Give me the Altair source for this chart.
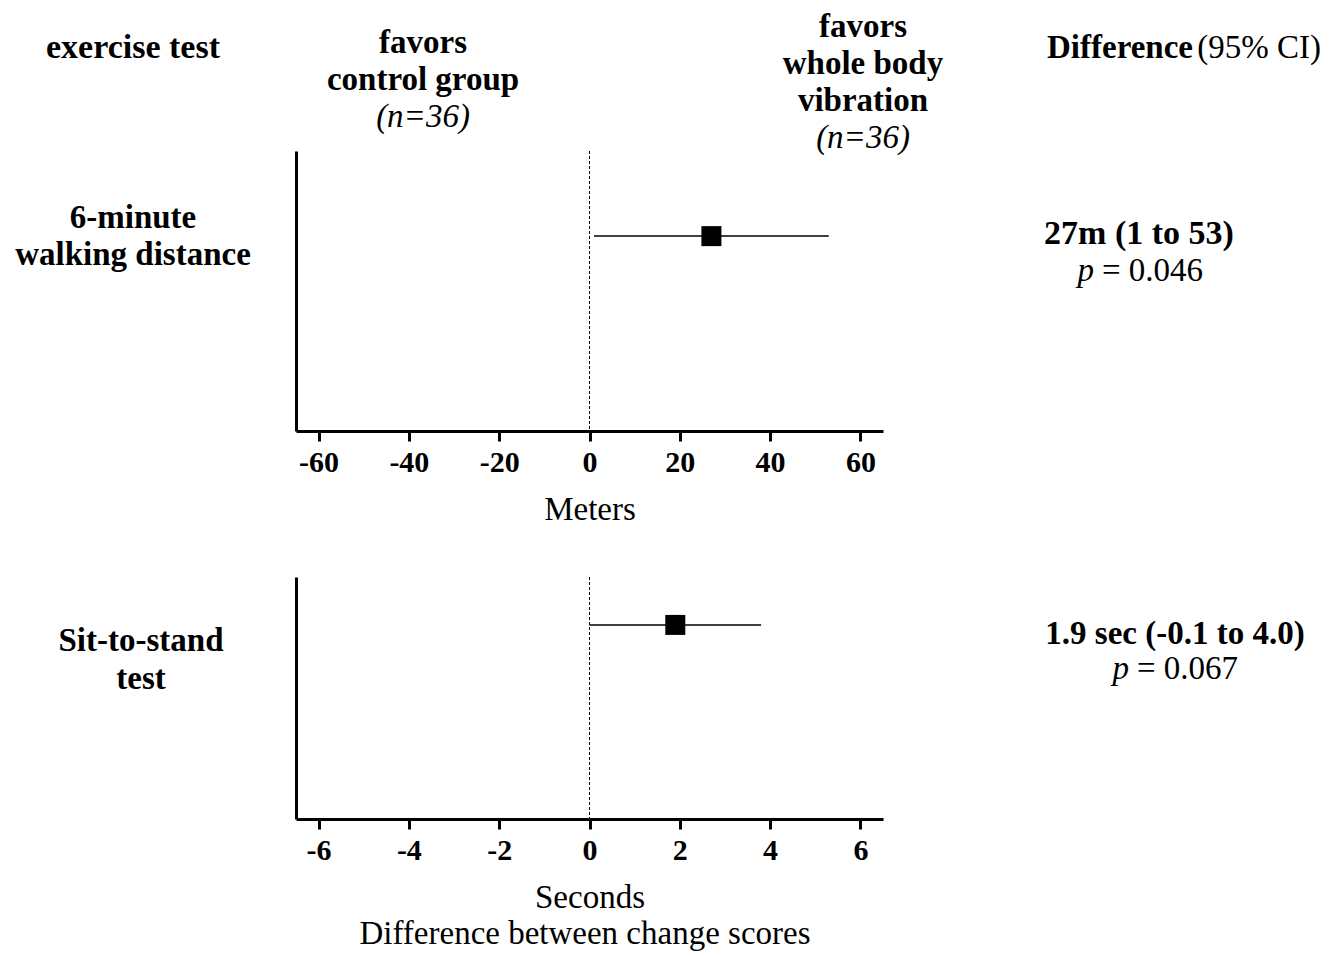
import altair as alt
import pandas as pd

FONT = "Liberation Serif"

# ---- data ----
tests = ["6-minute walking distance", "Sit-to-stand test"]
test_lines = [["6-minute", "walking distance"], ["Sit-to-stand", "test"]]
estimates = [27, 1.9]
ci_low = [1, 0.0]
ci_high = [53, 3.8]
units = ["Meters", "Seconds"]
result_text = ["27m (1 to 53)", "1.9 sec (-0.1 to 4.0)"]
p_values = ["= 0.046", "= 0.067"]
x_ticks = [[-60, -40, -20, 0, 20, 40, 60], [-6, -4, -2, 0, 2, 4, 6]]
header_left = ["exercise test"]
header_control = ["favors", "control group", "(n=36)"]
header_wbv = ["favors", "whole body", "vibration", "(n=36)"]
header_diff = ["Difference", "(95% CI)"]
bottom_title = "Difference between change scores"

W = 587
FS = 33


def txt(s, x, y, size=FS, weight="bold", style="normal", align="center"):
    return alt.Chart(alt.Data(values=[{}])).mark_text(
        text=s, font=FONT, fontSize=size, fontWeight=weight, fontStyle=style,
        align=align, baseline="middle", color="black"
    ).encode(x=alt.value(x), y=alt.value(y))


def panel(i, height, yalign, domain, extra):
    df = pd.DataFrame({
        "test": [tests[i]],
        "est": [estimates[i]],
        "lo": [ci_low[i]],
        "hi": [ci_high[i]],
    })
    xscale = alt.Scale(domain=domain, nice=False, zero=False)
    yscale = alt.Scale(type="point", align=yalign, domain=[tests[i]])
    xaxis = alt.Axis(
        values=x_ticks[i], labelExpr="datum.value + ''", grid=False,
        domainWidth=3, domainColor="black", tickWidth=3, tickColor="black",
        tickSize=10, labelFont=FONT, labelFontWeight="bold", labelFontSize=30,
        labelColor="black", labelPadding=6, labelFlush=False,
        title=units[i], titleFont=FONT, titleFontSize=FS,
        titleFontWeight="normal", titleColor="black", titlePadding=16,
    )
    yaxis = alt.Axis(
        title=None, labels=False, ticks=False, grid=False,
        domainWidth=3, domainColor="black",
    )
    base = alt.Chart(df)
    zero = base.mark_rule(color="black", strokeWidth=1, strokeDash=[3, 2]).encode(
        x=alt.datum(0, scale=xscale, axis=xaxis)
    )
    ci = base.mark_rule(color="black", strokeWidth=1.5).encode(
        x=alt.X("lo:Q", scale=xscale, axis=xaxis),
        x2="hi:Q",
        y=alt.Y("test:N", scale=yscale, axis=yaxis),
    )
    pt = base.mark_point(shape="square", filled=True, size=400, color="black", opacity=1).encode(
        x=alt.X("est:Q", scale=xscale, axis=xaxis),
        y=alt.Y("test:N", scale=yscale, axis=yaxis),
    )
    return alt.layer(zero, ci, pt, *extra).properties(width=W, height=height)


# ---- top panel texts (positions relative to plot origin) ----
top_extra = [
    txt(header_left[0], -163, -103, size=34),
    txt(header_control[0], 127, -108),
    txt(header_control[1], 127, -71),
    txt(header_control[2], 127, -34, weight="normal", style="italic"),
    txt(header_wbv[0], 567, -124),
    txt(header_wbv[1], 567, -87),
    txt(header_wbv[2], 567, -50),
    txt(header_wbv[3], 567, -13, weight="normal", style="italic"),
    txt(header_diff[0], 751, -103, align="left"),
    txt(header_diff[1], 1025, -103, weight="normal", align="right"),
    txt(test_lines[0][0], -163, 67),
    txt(test_lines[0][1], -163, 104),
    txt(result_text[0], 843, 83, size=34),
    txt("p", 798, 120, weight="normal", style="italic", align="right"),
    txt(p_values[0], 806, 120, weight="normal", align="left"),
]

bottom_extra = [
    txt(test_lines[1][0], -155, 64),
    txt(test_lines[1][1], -155, 102),
    txt(result_text[1], 879, 57),
    txt("p", 833, 92, weight="normal", style="italic", align="right"),
    txt(p_values[1], 841, 92, weight="normal", align="left"),
    txt(bottom_title, 289, 357, weight="normal"),
]

top = panel(0, 280, 0.304, [-65, 65], top_extra)
bottom = panel(1, 242, 0.198, [-6.5, 6.5], bottom_extra)

chart = alt.vconcat(top, bottom, spacing=50).properties(
    padding={"left": 7, "top": 3, "right": 0, "bottom": 0}
).configure_view(strokeWidth=0, stroke="transparent")

chart.save("out.html", embed_options={"renderer": "svg", "actions": False})
